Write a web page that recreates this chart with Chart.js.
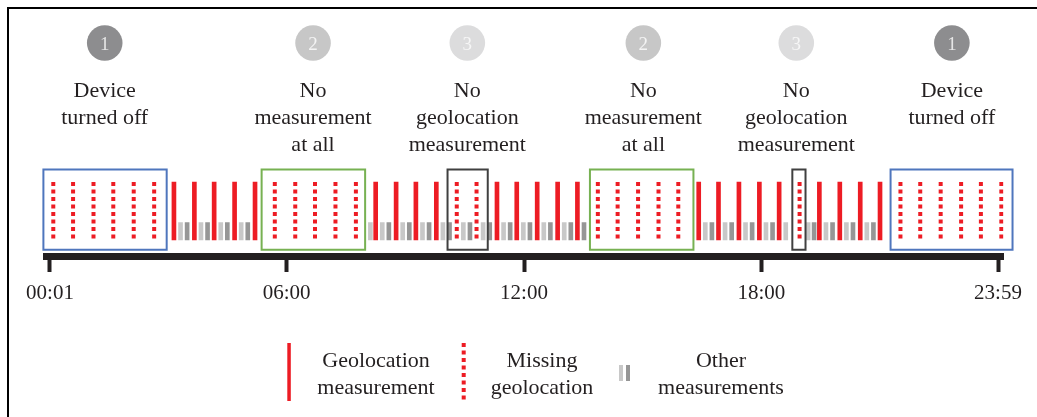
<!DOCTYPE html>
<html><head><meta charset="utf-8">
<script src="https://cdn.jsdelivr.net/npm/chart.js@4.4.1/dist/chart.umd.min.js"></script>
<style>
html,body{margin:0;padding:0;background:#fff;overflow:hidden;}
#wrap{position:relative;width:1037px;height:417px;overflow:hidden;}
canvas{position:absolute;left:0;top:0;}
#frame{position:absolute;left:7px;top:7px;width:1100px;height:500px;border-top:2px solid #000;border-left:2px solid #000;pointer-events:none;}
</style></head><body>
<div id="wrap"><canvas id="c" width="1037" height="417"></canvas><div id="frame"></div></div>
<script>
// ---- data (times in minutes after midnight) ----
const tickTimes  = [1, 360, 720, 1080, 1439];
const tickLabels = ['00:01', '06:00', '12:00', '18:00', '23:59'];

const geolocationTimes = [189, 220, 250, 281, 312, 495, 526, 556, 587, 679, 709, 740, 771, 801,
                          985, 1015, 1046, 1077, 1107, 1168, 1199, 1230, 1260];
const missingTimes = [6, 36, 67, 97, 128, 159, 342, 373, 403, 434, 465, 618, 648,
                      832, 862, 893, 924, 954, 1138, 1291, 1321, 1352, 1383, 1413, 1444];
const otherLightTimes = [199, 230, 260, 291, 487, 505, 536, 566, 597, 628, 658, 689, 719, 750, 781,
                         995, 1025, 1056, 1087, 1117, 1151, 1178, 1209, 1240];
const otherDarkTimes = [209, 240, 270, 301, 515, 546, 576, 607, 638, 668, 699, 729, 760, 791, 811,
                        1005, 1035, 1066, 1097, 1160, 1188, 1219, 1250];

const deviceOffIntervals     = [[-9, 178], [1276, 1461]];
const noMeasurementIntervals = [[322, 479], [820, 977]];
const noGeolocationIntervals = [[604, 665], [1127, 1147]];

const annotationTimes   = [84, 400, 634, 901, 1133, 1369];
const annotationNumbers = ['1', '2', '3', '2', '3', '1'];
const annotationLabels  = [
  ['Device', 'turned off'],
  ['No', 'measurement', 'at all'],
  ['No', 'geolocation', 'measurement'],
  ['No', 'measurement', 'at all'],
  ['No', 'geolocation', 'measurement'],
  ['Device', 'turned off']
];
const legendLabels = [['Geolocation', 'measurement'], ['Missing', 'geolocation'], ['Other', 'measurements']];

// ---- styles ----
const SERIF = '"Liberation Serif", "DejaVu Serif", "Times New Roman", serif';
const TXT = '#231f20';
const RED = '#ed1c24', LIGHT = '#c8c8c8', DARK = '#969696';
const BLUE = '#4f76bd', GREEN = '#77b152', BLACKBOX = '#404040';
const CIRCLE_COLORS = {'1': '#8d8d8f', '2': '#c7c7c7', '3': '#dcdcdd'};
const NUM_COLORS = {'1': '#e6e6e6', '2': '#f4f4f4', '3': '#f6f6f6'};
const MARK_BOTTOM = 16.5, GEO_TOP = 74.5, OTHER_TOP = 33.8;
const BOX_BOTTOM = 6.8, BOX_TOP = 87, CIRCLE_Y = 213.5, LABEL_Y = 159.2, LABEL_LH = 26.7;
const DASH = [4, 3.5];

function rects(intervals) {
  const pts = [];
  intervals.forEach(([a, b]) => {
    pts.push({x: a, y: BOX_BOTTOM}, {x: b, y: BOX_BOTTOM}, {x: b, y: BOX_TOP},
             {x: a, y: BOX_TOP}, {x: a, y: BOX_BOTTOM}, {x: a, y: null});
  });
  return pts;
}
function boxDataset(intervals, color) {
  return {type: 'line', data: rects(intervals), borderColor: color, borderWidth: 2,
          borderDash: [100000, 0], borderCapStyle: 'square', borderJoinStyle: 'miter',
          pointRadius: 0, fill: false, tension: 0, spanGaps: false, clip: false};
}
function barDataset(times, top, color) {
  return {type: 'bar', data: times.map(t => ({x: t, y: [MARK_BOTTOM, top]})),
          backgroundColor: color, borderWidth: 0, grouped: false,
          barThickness: 4, maxBarThickness: 4};
}

const annotationPlugin = {
  id: 'annotations',
  afterDatasetsDraw(chart) {
    const ctx = chart.ctx, xs = chart.scales.x, ys = chart.scales.y;
    ctx.save();
    ctx.textAlign = 'center';
    ctx.textBaseline = 'alphabetic';
    annotationTimes.forEach((t, i) => {
      const x = xs.getPixelForValue(t);
      ctx.font = '19px ' + SERIF;
      ctx.fillStyle = NUM_COLORS[annotationNumbers[i]];
      ctx.fillText(annotationNumbers[i], x, ys.getPixelForValue(CIRCLE_Y) + 6.5);
      ctx.font = '22px ' + SERIF;
      ctx.fillStyle = TXT;
      annotationLabels[i].forEach((line, j) => {
        ctx.fillText(line, x, ys.getPixelForValue(LABEL_Y) + j * LABEL_LH);
      });
    });
    ctx.restore();
  },
  afterDraw(chart) {
    const ctx = chart.ctx;
    ctx.save();
    // icons
    ctx.fillStyle = RED;
    ctx.fillRect(287.3, 343, 3.5, 58);
    ctx.strokeStyle = RED; ctx.lineWidth = 4; ctx.setLineDash(DASH);
    ctx.beginPath(); ctx.moveTo(463.7, 343); ctx.lineTo(463.7, 401); ctx.stroke();
    ctx.setLineDash([]);
    ctx.fillStyle = LIGHT; ctx.fillRect(619, 365, 4, 16);
    ctx.fillStyle = DARK;  ctx.fillRect(626, 365, 4, 16);
    // texts
    ctx.font = '22px ' + SERIF; ctx.fillStyle = TXT; ctx.textAlign = 'center'; ctx.textBaseline = 'alphabetic';
    const centers = [376, 542, 721];
    legendLabels.forEach((lines, i) => {
      lines.forEach((line, j) => ctx.fillText(line, centers[i], 367 + j * 26.5));
    });
    ctx.restore();
  }
};

new Chart(document.getElementById('c'), {
  type: 'scatter',
  data: {
    datasets: [
      boxDataset(deviceOffIntervals, BLUE),
      boxDataset(noMeasurementIntervals, GREEN),
      boxDataset(noGeolocationIntervals, BLACKBOX),
      {type: 'line', data: missingTimes.flatMap(t => [{x: t, y: GEO_TOP}, {x: t, y: MARK_BOTTOM}, {x: t, y: null}]),
       borderColor: RED, borderWidth: 4, borderDash: DASH, borderCapStyle: 'butt',
       pointRadius: 0, fill: false, tension: 0, spanGaps: false},
      barDataset(geolocationTimes, GEO_TOP, RED),
      barDataset(otherLightTimes, OTHER_TOP, LIGHT),
      barDataset(otherDarkTimes, OTHER_TOP, DARK),
      {type: 'scatter', data: annotationTimes.map(t => ({x: t, y: CIRCLE_Y})),
       pointRadius: 17.8, pointHoverRadius: 17.8, borderWidth: 0,
       pointBackgroundColor: annotationNumbers.map(n => CIRCLE_COLORS[n]), clip: false}
    ]
  },
  options: {
    responsive: false, animation: false, events: [],
    layout: {autoPadding: false, padding: {left: 46.5, right: 33.5, top: 6.5, bottom: 101.8}},
    plugins: {legend: {display: false}, tooltip: {enabled: false}},
    scales: {
      x: {type: 'linear', min: -4.3, max: 1447.3, offset: false,
          afterBuildTicks: s => { s.ticks = tickTimes.map(v => ({value: v})); },
          grid: {offset: false, drawOnChartArea: false, drawTicks: true, tickLength: 15.5, tickWidth: 4, tickColor: TXT, lineWidth: 1},
          border: {display: true, width: 7, color: TXT},
          ticks: {autoSkip: false, maxRotation: 0, padding: 9, color: TXT,
                  font: {family: SERIF, size: 21},
                  callback: (v, i) => tickLabels[i]}},
      y: {type: 'linear', min: 0, max: 250, display: false}
    }
  },
  plugins: [annotationPlugin]
});
</script>
</body></html>
